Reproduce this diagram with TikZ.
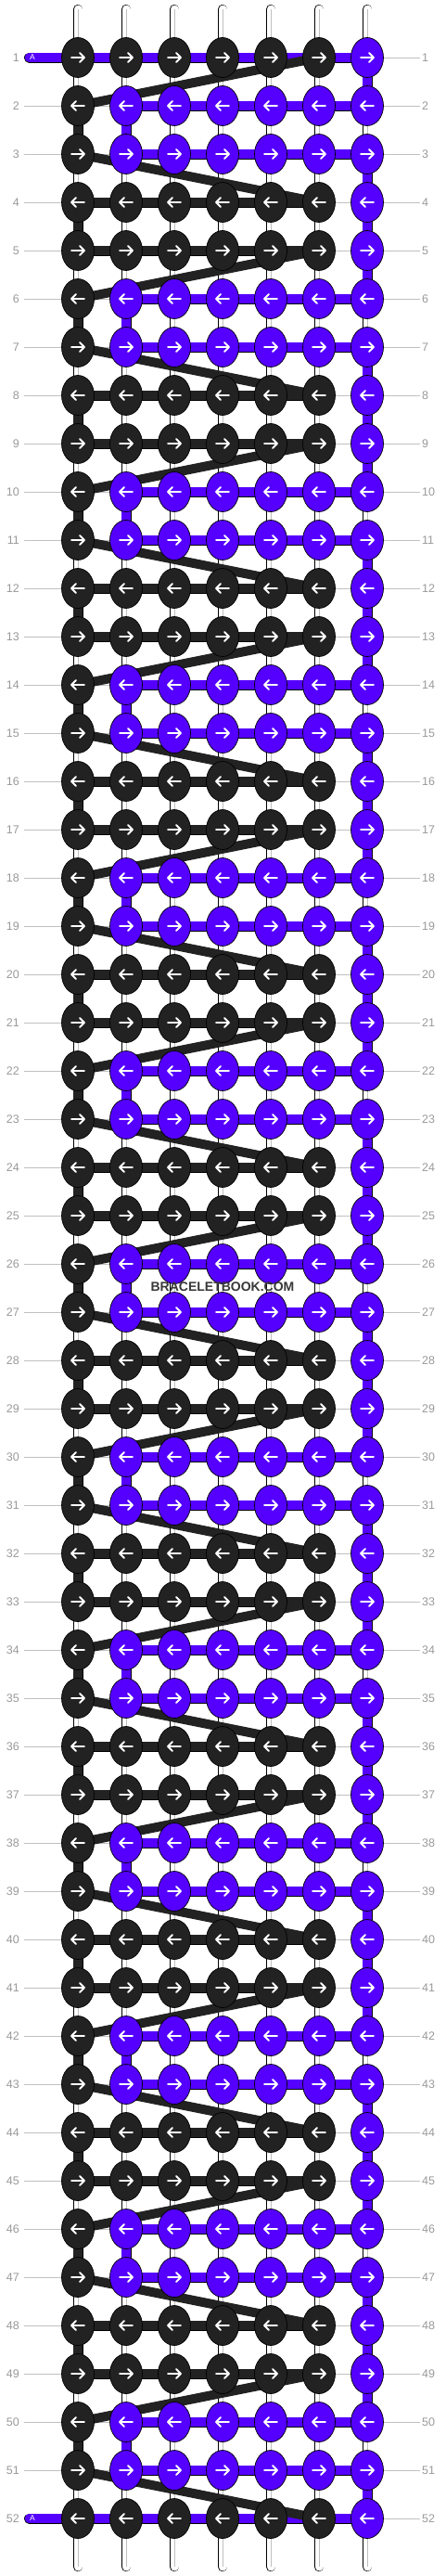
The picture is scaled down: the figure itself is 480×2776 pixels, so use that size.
\documentclass[tikz,border=0pt]{standalone}
\usepackage{fontspec}
\setmainfont{Liberation Sans}
\usetikzlibrary{shapes.geometric}

\definecolor{knotblack}{RGB}{34,34,34}
\definecolor{knotpurple}{RGB}{85,0,255}
\definecolor{labelgray}{RGB}{153,153,153}
\definecolor{guidegray}{RGB}{192,192,192}

\pgfdeclarelayer{guides}
\pgfdeclarelayer{tubes}
\pgfdeclarelayer{strings}
\pgfsetlayers{guides,tubes,strings,main}

\tikzset{
	knot/.style={ellipse, draw=black, line width=0.7pt, minimum width=35pt, minimum height=43pt, inner sep=0pt},
	arrowline/.style={draw=white, line width=1.9pt, line cap=round, line join=round},
	rowlab/.style={text=labelgray, inner sep=0pt, font=\fontsize{12.5}{14}\selectfont},
	guide/.style={draw=guidegray, line width=0.8pt, shorten <=5pt, shorten >=2pt},
	tube/.style={draw=black, line width=0.7pt, double=white, double distance=9pt, line cap=round},
	tubecore/.style={draw=black!25, line width=0.9pt},
	bar/.style={draw=black, line width=0.7pt, double=#1, double distance=9.6pt},
	band/.style={draw=knotblack, line width=10pt},
	astub/.style={text=white, inner sep=0pt, font=\fontsize{8.5}{9}\selectfont},
	watermark/.style={text=black!78, inner sep=0pt, font=\bfseries\fontsize{14}{16}\selectfont}
}

\begin{document}
\begin{tikzpicture}[x=1pt, y=-1pt]
	\useasboundingbox (0,0) rectangle (480,2776);

	% knots, arrows and row numbers
	\foreach \rr in {1,...,52} {
		\pgfmathtruncatemacro{\prow}{and(and(\rr>1,\rr<52),mod(\rr+2,4)<2)}
		\pgfmathtruncatemacro{\dir}{ifthenelse(mod(\rr,2)==1,1,-1)}
		\foreach \cc in {1,...,7} {
			\ifnum\prow=1
				\ifnum\cc=1 \def\kcol{knotblack}\else\def\kcol{knotpurple}\fi
			\else
				\ifnum\cc=7 \def\kcol{knotpurple}\else\def\kcol{knotblack}\fi
			\fi
			\node[knot, fill=\kcol] (k-\rr-\cc) at (32+52*\cc, 10+52*\rr) {};
			\draw[arrowline, shift={(k-\rr-\cc)}, xscale=\dir] (-7,0) -- (7,0) (2,-5) -- (7,0) -- (2,5);
		}
		\node[rowlab, anchor=east] (l-\rr) at (21, 10+52*\rr) {\rr};
		\node[rowlab, anchor=west] (q-\rr) at (455, 10+52*\rr) {\rr};
	}

	\begin{pgfonlayer}{guides}
		\foreach \rr in {1,...,52}
			\draw[guide] (l-\rr.east) -- (q-\rr.west);
	\end{pgfonlayer}

	% loose ends and vertical strings
	\begin{pgfonlayer}{tubes}
		\foreach \cc in {1,...,7} {
			\coordinate (t-\cc) at (32+52*\cc, 10);
			\coordinate (b-\cc) at (32+52*\cc, 2766);
			\draw[tube] (t-\cc) -- (k-1-\cc.center);
			\draw[tubecore] (t-\cc) -- (k-1-\cc.center);
			\draw[tube] (k-52-\cc.center) -- (b-\cc);
			\draw[tubecore] (k-52-\cc.center) -- (b-\cc);
		}
		\foreach \rr in {1,...,51} {
			\pgfmathtruncatemacro{\nr}{\rr+1}
			\foreach \cc in {1,...,7} {
				\pgfmathtruncatemacro{\vk}{ifthenelse(\cc==1, ifthenelse(mod(\rr,2)==0,1,0), ifthenelse(\cc==2, ifthenelse(mod(\rr+2,4)==0,1,0), ifthenelse(\cc==7, ifthenelse(mod(\rr+2,4)==0,0,1), 0)))}
				\ifnum\vk=0
					\draw[tube] (k-\rr-\cc.center) -- (k-\nr-\cc.center);
					\draw[tubecore] (k-\rr-\cc.center) -- (k-\nr-\cc.center);
				\fi
			}
		}
	\end{pgfonlayer}

	% carried strings
	\begin{pgfonlayer}{strings}
		\coordinate (a-1) at (31.5, 62);
		\coordinate (a-52) at (31.5, 2714);
		\draw[bar=knotpurple, line cap=round] (a-1) -- (k-1-1.center);
		\draw[bar=knotpurple, line cap=round] (a-52) -- (k-52-1.center);
		\foreach \rr in {1,...,52} {
			\pgfmathtruncatemacro{\prow}{and(and(\rr>1,\rr<52),mod(\rr+2,4)<2)}
			\pgfmathtruncatemacro{\edge}{or(\rr==1,\rr==52)}
			\ifnum\edge=1
				\foreach \cc in {1,...,6} {
					\pgfmathtruncatemacro{\nc}{\cc+1}
					\draw[bar=knotpurple] (k-\rr-\cc.center) -- (k-\rr-\nc.center);
				}
			\else
				\ifnum\prow=1
					\foreach \cc in {2,...,6} {
						\pgfmathtruncatemacro{\nc}{\cc+1}
						\draw[bar=knotpurple] (k-\rr-\cc.center) -- (k-\rr-\nc.center);
					}
				\else
					\foreach \cc in {1,...,5} {
						\pgfmathtruncatemacro{\nc}{\cc+1}
						\draw[bar=knotblack] (k-\rr-\cc.center) -- (k-\rr-\nc.center);
					}
				\fi
			\fi
		}
		\foreach \rr in {1,...,51} {
			\pgfmathtruncatemacro{\nr}{\rr+1}
			\ifodd\rr\else
				\draw[bar=knotblack] (k-\rr-1.center) -- (k-\nr-1.center);
			\fi
			\pgfmathtruncatemacro{\pm}{mod(\rr+2,4)}
			\ifnum\pm=0
				\draw[bar=knotpurple] (k-\rr-2.center) -- (k-\nr-2.center);
			\else
				\draw[bar=knotpurple] (k-\rr-7.center) -- (k-\nr-7.center);
			\fi
		}
		\foreach \rr in {1,5,...,49} {
			\pgfmathtruncatemacro{\nr}{\rr+1}
			\draw[band] (k-\rr-6.center) -- (k-\nr-1.center);
		}
		\foreach \rr in {3,7,...,51} {
			\pgfmathtruncatemacro{\nr}{\rr+1}
			\draw[band] (k-\rr-1.center) -- (k-\nr-6.center);
		}
	\end{pgfonlayer}

	\node[astub] (al-1) at (35, 62) {A};
	\node[astub] (al-52) at (35, 2714) {A};

	\node[watermark] (wm) at (240, 1387) {BRACELETBOOK.COM};
\end{tikzpicture}
\end{document}
